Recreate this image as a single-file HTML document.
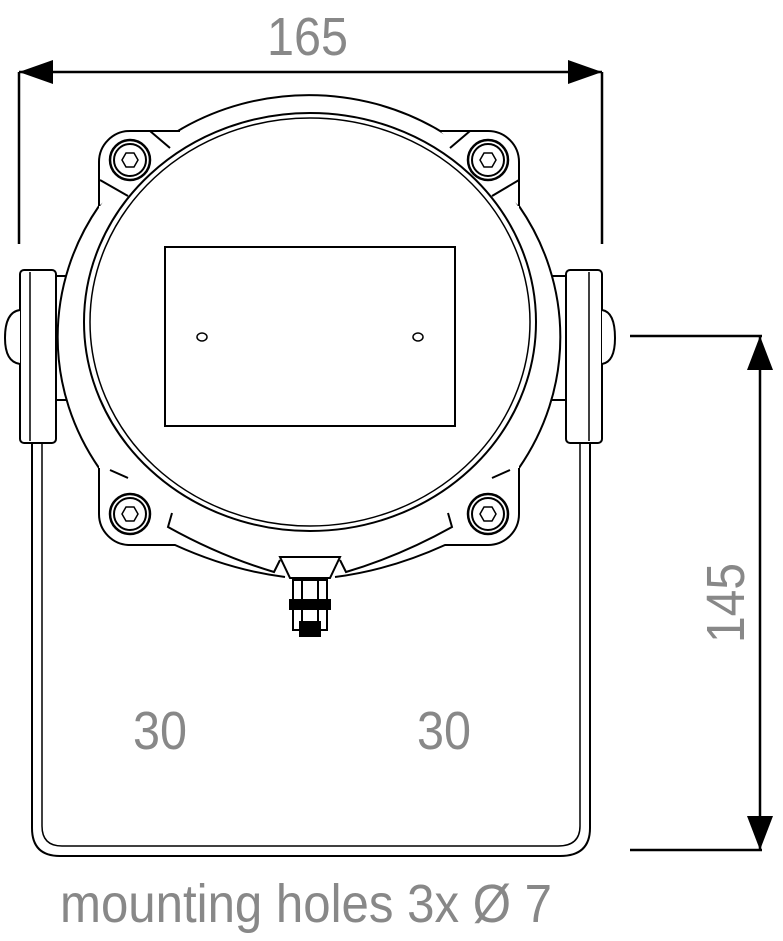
<!DOCTYPE html>
<html><head><meta charset="utf-8"><style>html,body{margin:0;padding:0;background:#fff}svg{display:block}</style></head>
<body>
<svg width="783" height="941" viewBox="0 0 783 941" xmlns="http://www.w3.org/2000/svg">
<g fill="none" stroke="#000" stroke-width="2">
  <line x1="19" y1="72" x2="602" y2="72" stroke-width="2.5"/>
  <line x1="19" y1="72" x2="19" y2="244" stroke-width="2.5"/>
  <line x1="602" y1="72" x2="602" y2="244" stroke-width="2.5"/>
  <line x1="630" y1="336" x2="762" y2="336" stroke-width="2.5"/>
  <line x1="630" y1="850" x2="762" y2="850" stroke-width="2.5"/>
  <line x1="760" y1="336" x2="760" y2="850" stroke-width="2.5"/>
</g>
<g fill="#000">
  <polygon points="19,72 53,60 53,84"/>
  <polygon points="602,72 568,60 568,84"/>
  <polygon points="760,336 747,370 773,370"/>
  <polygon points="760,850 747,816 773,816"/>
</g>

<g fill="none" stroke="#000" stroke-width="2">
  <path d="M32,440 L32,828 Q32,856 60,856 L560,856 Q590,856 590,828 L590,440"/>
  <path d="M42,440 L42,826 Q42,846 62,846 L558,846 Q580,846 580,826 L580,440" stroke-width="1.5"/>
  <rect x="20" y="270" width="36" height="173" rx="4" fill="#fff"/>
  <line x1="30" y1="272" x2="30" y2="441" stroke-width="1.5"/>
  <path d="M20,310 Q5,312 5,338 Q5,362 20,364" fill="#fff"/>
  <line x1="56" y1="276" x2="70" y2="276"/>
  <line x1="56" y1="400" x2="70" y2="400"/>
  <rect x="566" y="270" width="36" height="173" rx="4" fill="#fff"/>
  <line x1="589" y1="272" x2="589" y2="441" stroke-width="1.5"/>
  <path d="M602,310 Q615,312 615,338 Q615,362 602,364" fill="#fff"/>
  <line x1="552" y1="276" x2="566" y2="276"/>
  <line x1="552" y1="400" x2="566" y2="400"/>

  <!-- housing outer (top part) -->
  <path d="M99,206 A248,237 0 0 1 519,206" fill="#fff"/>
  <path d="M99,206 A248,237 0 0 0 99,468" fill="#fff"/>
  <path d="M519,206 A248,237 0 0 1 519,468" fill="#fff"/>
  <path d="M99,206 L99,468 M519,206 L519,468" stroke="none"/>
  <rect x="99" y="206" width="420" height="262" fill="#fff" stroke="none"/>
  <!-- lugs -->
  <path d="M180,131 L130,131 A31,31 0 0 0 99,162 L99,206" fill="#fff"/>
  <path d="M440,131 L488,131 A31,31 0 0 1 519,162 L519,206" fill="#fff"/>
  <path d="M99,468 L99,514 A31,31 0 0 0 130,545 L175,545 Q230,570 285,577" fill="#fff"/>
  <path d="M519,468 L519,514 A31,31 0 0 1 488,545 L445,545 Q390,570 335,577" fill="#fff"/>
  <!-- inner rings -->
  <ellipse cx="310" cy="322" rx="226" ry="209" fill="#fff"/>
  <ellipse cx="310" cy="322" rx="220" ry="204" stroke-width="1.5"/>
  <line x1="150" y1="131" x2="170" y2="148"/>
  <line x1="100" y1="180" x2="128" y2="196"/>
  <line x1="470" y1="131" x2="450" y2="148"/>
  <line x1="519" y1="180" x2="492" y2="196"/>
  <line x1="128" y1="478" x2="110" y2="470"/>
  <line x1="492" y1="478" x2="510" y2="470"/>
  <g>
    <circle cx="130" cy="160" r="20" stroke-width="2.5"/><circle cx="130" cy="160" r="16"/>
    <polygon points="138,160 134,167 126,167 122,160 126,153 134,153" stroke-width="1.5"/>
    <circle cx="488" cy="160" r="20" stroke-width="2.5"/><circle cx="488" cy="160" r="16"/>
    <polygon points="496,160 492,167 484,167 480,160 484,153 492,153" stroke-width="1.5"/>
    <circle cx="130" cy="514" r="20" stroke-width="2.5"/><circle cx="130" cy="514" r="16"/>
    <polygon points="138,514 134,521 126,521 122,514 126,507 134,507" stroke-width="1.5"/>
    <circle cx="488" cy="514" r="20" stroke-width="2.5"/><circle cx="488" cy="514" r="16"/>
    <polygon points="496,514 492,521 484,521 480,514 484,507 492,507" stroke-width="1.5"/>
  </g>
  <!-- clamp bands -->
  <path d="M172,513 L168,527 Q220,556 274,572 L280,560"/>
  <path d="M448,513 L452,527 Q400,556 346,572 L340,560"/>
  <!-- gland -->
  <path d="M280,557 L340,557 L330,578 L290,578 Z" fill="#fff"/>
  <rect x="293" y="580" width="34" height="50" fill="#fff"/>
  <line x1="302" y1="580" x2="302" y2="630"/>
  <line x1="318" y1="580" x2="318" y2="630"/>
  <rect x="290" y="600" width="40" height="9" fill="#000"/>
  <rect x="300" y="622" width="20" height="14" fill="#000"/>
  <rect x="165" y="247" width="290" height="179" stroke-width="2"/>
  <ellipse cx="202" cy="337" rx="5" ry="4" stroke-width="1.5"/>
  <ellipse cx="418" cy="337" rx="5" ry="4" stroke-width="1.5"/>
</g>

<g fill="#888" font-family="'Liberation Sans', sans-serif">
  <text x="267" y="55" font-size="54" textLength="81" lengthAdjust="spacingAndGlyphs">165</text>
  <text x="133" y="749" font-size="54" textLength="54" lengthAdjust="spacingAndGlyphs">30</text>
  <text x="417" y="749" font-size="54" textLength="54" lengthAdjust="spacingAndGlyphs">30</text>
  <text transform="translate(744,643) rotate(-90)" font-size="54" textLength="80" lengthAdjust="spacingAndGlyphs">145</text>
  <text x="60" y="922" font-size="54" textLength="492" lengthAdjust="spacingAndGlyphs">mounting holes 3x Ø 7</text>
</g>
</svg>
</body></html>
